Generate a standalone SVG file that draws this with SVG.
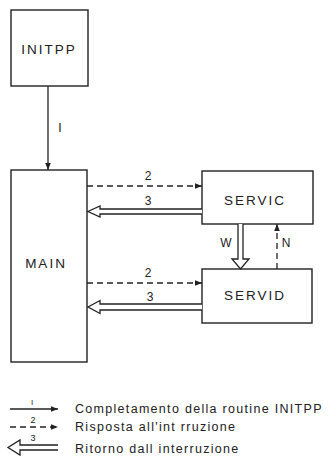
<svg xmlns="http://www.w3.org/2000/svg" width="334" height="473" viewBox="0 0 334 473">
<style>
.box{fill:#fff;stroke:#222;stroke-width:1.4}
.ln{fill:none;stroke:#222;stroke-width:1.3}
.dash{fill:none;stroke:#222;stroke-width:1.3;stroke-dasharray:6 4}
.dbl{fill:#fff;stroke:#222;stroke-width:1.3;stroke-linejoin:miter}
.t{font-family:"Liberation Sans",Arial,sans-serif;fill:#222}
.nl{font-size:13.5px;letter-spacing:2px;text-anchor:middle}
.lab{font-size:12px;text-anchor:middle}
.leg{font-size:12.5px;letter-spacing:1.3px}
</style>
<defs>
<marker id="ah" viewBox="0 0 10 10" refX="10" refY="5" markerWidth="7" markerHeight="7" markerUnits="userSpaceOnUse" orient="auto">
<path d="M0,1 L10,5 L0,9 Z" fill="#222"/>
</marker>
</defs>
<rect width="334" height="473" fill="#fff"/>
<g id="INITPP"><rect class="box" x="11" y="10" width="77" height="76"/><text class="t nl" x="49" y="54">INITPP</text></g>
<g id="MAIN"><rect class="box" x="11" y="170" width="76" height="192"/><text class="t nl" x="46" y="268">MAIN</text></g>
<g id="SERVIC"><rect class="box" x="202" y="171" width="111" height="53"/><text class="t nl" x="255" y="205">SERVIC</text></g>
<g id="SERVID"><rect class="box" x="202" y="269" width="110" height="54"/><text class="t nl" x="255" y="300">SERVID</text></g>
<g id="connectors">
<line class="ln" x1="48" y1="86" x2="48" y2="170" marker-end="url(#ah)"/>
<text class="t lab" x="60" y="132">I</text>
<line class="dash" x1="87" y1="186" x2="202" y2="186" marker-end="url(#ah)"/>
<text class="t lab" x="148" y="180">2</text>
<path class="dbl" d="M202,209 L100,209 L100,206 L88,211.5 L100,217 L100,214 L202,214"/>
<text class="t lab" x="148" y="205">3</text>
<line class="dash" x1="87" y1="283" x2="202" y2="283" marker-end="url(#ah)"/>
<text class="t lab" x="148" y="277">2</text>
<path class="dbl" d="M202,304 L100,304 L100,300.5 L88,307 L100,313.5 L100,310 L202,310"/>
<text class="t lab" x="150" y="301">3</text>
<path class="dbl" d="M238,224 L238,259 L232,259 L240.5,269 L249,259 L243,259 L243,224"/>
<text class="t lab" x="226" y="247">W</text>
<line class="dash" x1="277" y1="269" x2="277" y2="224" marker-end="url(#ah)"/>
<text class="t lab" x="286" y="247">N</text>
</g>
<g id="legend">
<line class="ln" x1="10" y1="409" x2="58" y2="409" marker-end="url(#ah)"/>
<text class="t" x="32" y="405" font-size="8" text-anchor="middle">I</text>
<text class="t leg" x="75" y="413">Completamento della routine INITPP</text>
<path class="dash" d="M10,427 H58" stroke-dasharray="6 9" marker-end="url(#ah)"/>
<text class="t" x="33" y="423" font-size="9" text-anchor="middle">2</text>
<text class="t leg" x="75" y="431">Risposta all'int  rruzione</text>
<path class="dbl" d="M58,445 L20,445 L20,440 L8,447.5 L20,455 L20,450 L58,450"/>
<text class="t" x="33" y="441" font-size="9" text-anchor="middle">3</text>
<text class="t leg" x="75" y="453">Ritorno dall interruzione</text>
</g>
</svg>
